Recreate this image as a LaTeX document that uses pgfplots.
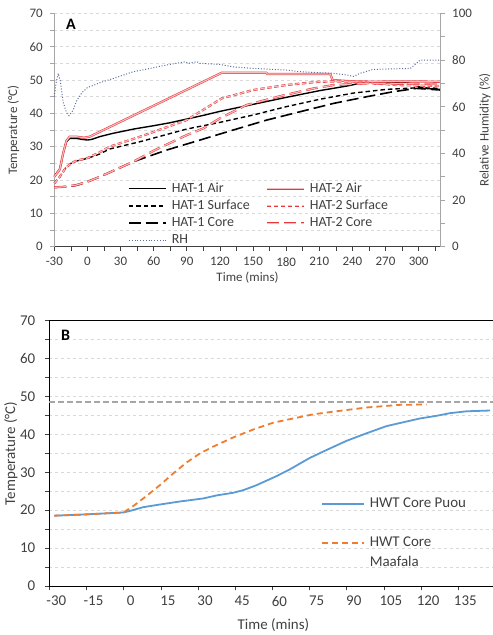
\documentclass[border=0pt]{standalone}
\usepackage{pgfplots}
\pgfplotsset{compat=1.18}
\usepackage{fontspec}
\setmainfont{Carlito}
\definecolor{txt}{HTML}{404040}
\definecolor{gridc}{HTML}{D9D9D9}
\definecolor{axg}{HTML}{A6A6A6}
\definecolor{axd}{HTML}{404040}
\definecolor{redo}{HTML}{E8383D}
\definecolor{redi}{HTML}{F7BDBD}
\definecolor{rhc}{HTML}{5B6E9E}
\definecolor{bblue}{HTML}{5B9BD5}
\definecolor{borange}{HTML}{ED7D31}
\definecolor{bgray}{HTML}{A6A6A6}
\pgfplotsset{
  h1air/.style={black, line width=1.4bp, solid},
  h1surf/.style={black, line width=1.4bp, dash pattern=on 4.5bp off 3bp},
  h1core/.style={black, line width=1.6bp, dash pattern=on 12bp off 5bp},
  h2air/.style={draw=redo, double=redi, double distance=1.1bp, line width=0.55bp, solid},
  h2surf/.style={draw=redo, double=redi, double distance=1.1bp, line width=0.55bp, dash pattern=on 4.5bp off 2.5bp},
  h2core/.style={draw=redo, double=redi, double distance=1.1bp, line width=0.55bp, dash pattern=on 12bp off 5bp},
  rhs/.style={rhc, line width=1bp, dash pattern=on 1bp off 1.8bp},
}
\begin{document}
\begin{tikzpicture}[x=1bp,y=1bp]
\path[use as bounding box] (0,0) rectangle (493,635);

% ---------------- Panel A (left axis) ----------------
\begin{axis}[
  at={(54.3bp,388.3bp)}, anchor=south west, scale only axis,
  width=386.4bp, height=233.3bp,
  xmin=-30, xmax=320, ymin=0, ymax=70,
  axis x line=bottom, axis y line=left,
  x axis line style={-, draw=axd, line width=0.8bp},
  y axis line style={-, draw=axg, line width=0.8bp},
  xtick={-30,0,...,300}, minor xtick={-15,15,...,315},
  ytick={0,10,...,70}, minor ytick={5,15,...,65},
  ymajorgrids, yminorgrids,
  major grid style={gridc, dashed, line width=0.6bp},
  minor grid style={gridc, dashed, line width=0.6bp},
  tick align=outside, major tick length=4bp, minor tick length=4bp,
  xtick style={axd, line width=0.6bp}, ytick style={axg, line width=0.6bp},
  tick label style={font=\fontsize{13}{15}\selectfont, text=txt},
  /pgf/number format/assume math mode=true,
  yticklabel style={xshift=-4bp},
  xticklabel style={yshift=-3bp},
  xlabel={Time (mins)},
  xlabel style={font=\fontsize{13}{15}\selectfont, text=txt, at={(axis description cs:0.5,-0.133)}, anchor=center},
  ylabel={Temperature (°C)},
  ylabel style={font=\fontsize{13}{15}\selectfont, text=txt, at={(axis description cs:-0.106,0.5)}, anchor=center},
  clip=false,
  legend columns=2,
  legend image code/.code={\draw[#1] (0bp,3.5bp) -- (37bp,3.5bp);},
  legend style={draw=none, fill=none, inner sep=0pt,
    font=\fontsize{14}{16}\selectfont, text=txt,
    at={(axis description cs:0.1907,0.2773)}, anchor=north west,
    nodes={anchor=base west, inner sep=0pt, text height=10bp, text depth=3bp},
    row sep=4.2bp,
    /tikz/every odd column/.append style={column sep=5bp},
    /tikz/every even column/.append style={column sep=16bp}},
]
\addplot[h1air] coordinates {(-30,21) (-27,22.5) (-25,23.2) (-22,28) (-19,31.5) (-16,32.5) (-10,32.5) (-5,32.2) (0,32) (4,32.2) (11,33) (23,34) (42,35.3) (60,36.3) (75,37.2) (90,38.3) (105,39.4) (120,40.6) (150,42.7) (180,44.8) (210,46.8) (235,48.2) (245,48.9) (253,49.3) (270,49.3) (289,49.3) (295,48.8) (300,48) (305,47.5) (320,47.2)};
\addlegendentry{HAT-1 Air}
\addplot[h2air] coordinates {(-30,21) (-25,23.2) (-22,28) (-19,31.8) (-16,33) (-10,33) (-3,32.7) (2,33) (121.7,52.2) (162,52.2) (163,51.8) (220,51.8) (222,50) (240,49.6) (260,49.5) (280,49.6) (320,49.5)};
\addlegendentry{HAT-2 Air}
\addplot[h1surf] coordinates {(-30,19) (-25,21) (-20,23.5) (-15,25) (-10,25.7) (0,26.5) (11,27.8) (20,29.3) (47.7,31.5) (90,35.3) (120,37.3) (150,39.5) (180,42) (210,44.2) (241,46.1) (271,47.2) (300,47.7) (320,47.5)};
\addlegendentry{HAT-1 Surface}
\addplot[h2surf] coordinates {(-30,19) (-25,21) (-20,23.5) (-15,25) (-10,25.8) (0,26.6) (11,28.3) (20,30) (47.7,33) (90,38) (121.7,44.5) (150,47) (180,48.5) (210,49.5) (241,49.6) (260,49) (280,48.5) (320,48.2)};
\addlegendentry{HAT-2 Surface}
\addplot[h1core] coordinates {(-30,17.8) (-20,18) (-10,18.4) (0,19.5) (11.4,21) (41.6,25.5) (71.8,29) (102,32) (132,35) (162.5,38) (192.7,40.5) (223,43) (253,45) (277,46.5) (298,47.5) (320,47)};
\addlegendentry{HAT-1 Core}
\addplot[h2core] coordinates {(-30,17.8) (-20,18) (-10,18.5) (0,19.5) (11.4,21) (41.6,25.5) (60,28.8) (90,33.5) (105,35.5) (120,38.5) (144,42.5) (175,45.2) (205,47.5) (223,48.5) (253,49) (320,48.8)};
\addlegendentry{HAT-2 Core}
\addlegendimage{rhs}
\addlegendentry{RH}
\node[font=\bfseries\fontsize{16}{18}\selectfont, text=black] at (axis description cs:0.0433,0.9517) {A};
\end{axis}

% ---------------- Panel A (right axis, RH) ----------------
\begin{axis}[
  at={(54.3bp,388.3bp)}, anchor=south west, scale only axis,
  width=386.4bp, height=233.3bp,
  xmin=-30, xmax=320, ymin=0, ymax=100,
  axis x line=none, axis y line=right,
  y axis line style={-, draw=axg, line width=0.8bp},
  ytick={0,20,...,100}, minor ytick={10,30,...,90},
  tick align=outside, major tick length=4bp, minor tick length=4bp,
  ytick style={axg, line width=0.6bp},
  tick label style={font=\fontsize{13}{15}\selectfont, text=txt},
  /pgf/number format/assume math mode=true,
  yticklabel style={xshift=4bp},
  ylabel={Relative Humidity (\%)},
  ylabel style={font=\fontsize{13}{15}\selectfont, text=txt, at={(axis description cs:1.1146,0.5)}, anchor=center, rotate=0},
  clip=false,
]
\addplot[rhs] coordinates {(-30,64.3) (-28.5,70) (-26.4,74.3) (-24.5,71) (-22,62) (-19,57.5) (-16.7,56.2) (-13,58.5) (-9.8,62.5) (-5,66) (0,68.2) (11.4,70.3) (26.5,72.6) (41.6,75) (56.7,76.4) (71.8,77.9) (88,79.2) (92,78.6) (99,79.3) (102,78.6) (120,78.1) (132,77.1) (150,76.4) (180.6,75.7) (192.7,75) (223,74.3) (235,73.6) (241,73) (247,74.3) (259,76) (292.5,76.4) (301.5,80) (320,80)};
\end{axis}

% ---------------- Panel B ----------------
\begin{axis}[
  at={(49.3bp,49bp)}, anchor=south west, scale only axis,
  width=444.7bp, height=265.3bp,
  xmin=-30, xmax=149.4, ymin=0, ymax=70,
  axis line style={black, line width=0.9bp},
  xtick={-30,-15,...,135}, ytick={0,10,...,70}, minor ytick={5,15,...,65},
  xtick pos=bottom, ytick pos=left,
  ymajorgrids, yminorgrids,
  major grid style={gridc, dashed, line width=0.6bp},
  minor grid style={gridc, dashed, line width=0.6bp},
  tick align=outside, major tick length=4.5bp, minor tick length=4.5bp,
  tick style={axd, line width=0.6bp},
  tick label style={font=\fontsize{15}{17}\selectfont, text=txt},
  /pgf/number format/assume math mode=true,
  yticklabel style={xshift=-6bp},
  xticklabel style={xshift=7bp, yshift=-2bp},
  xlabel={Time (mins)},
  xlabel style={font=\fontsize{15}{17}\selectfont, text=txt, at={(axis description cs:0.504,-0.147)}, anchor=center},
  ylabel={Temperature (°C)},
  ylabel style={font=\fontsize{15}{17}\selectfont, text=txt, at={(axis description cs:-0.0864,0.5)}, anchor=center},
  clip=false,
  legend image code/.code={\draw[#1] (0bp,3.5bp) -- (42bp,3.5bp);},
  legend style={draw=none, fill=none, inner sep=0pt,
    font=\fontsize{15}{20}\selectfont, text=txt,
    at={(axis description cs:0.6105,0.3317)}, anchor=north west,
    nodes={anchor=base west, inner sep=0pt},
    row sep=23bp,
    /tikz/every odd column/.append style={column sep=5bp}},
]
\addplot[bgray, line width=1.4bp, dash pattern=on 6bp off 3bp, forget plot] coordinates {(-30,48.5) (149.4,48.5)};
\addplot[bblue, line width=1.8bp] coordinates {(-28,18.55) (-15,18.9) (-0.1,19.4) (2.5,19.8) (7.9,20.8) (14.6,21.5) (22.7,22.3) (32.1,23.1) (37.5,23.9) (44.2,24.6) (48.3,25.3) (53.6,26.6) (61.7,29) (67.1,30.8) (75.1,33.8) (81.9,35.9) (89.9,38.3) (98,40.3) (106.1,42.2) (112.8,43.2) (119.5,44.2) (126.2,44.9) (131.6,45.6) (138.4,46.1) (147.8,46.3)};
\addlegendentry{HWT Core Puou}
\addplot[borange, line width=1.8bp, dash pattern=on 6bp off 4bp] coordinates {(-28,18.55) (-15,18.9) (-0.1,19.4) (3.9,21.1) (9.3,23.8) (14.6,26.6) (20,29.7) (25.4,32.6) (30.8,35) (36.2,36.8) (44.2,39.2) (52.3,41.3) (60.4,43.1) (68.4,44.2) (76.5,45.3) (84.6,46) (98,47.1) (111.5,47.8) (122.2,47.9)};
\addlegendentry{\begin{tabular}[t]{@{}l@{}}HWT Core\\Maafala\end{tabular}}
\node[font=\bfseries\fontsize{16}{18}\selectfont, text=black] at (axis description cs:0.0369,0.9456) {B};
\end{axis}
\end{tikzpicture}
\end{document}
